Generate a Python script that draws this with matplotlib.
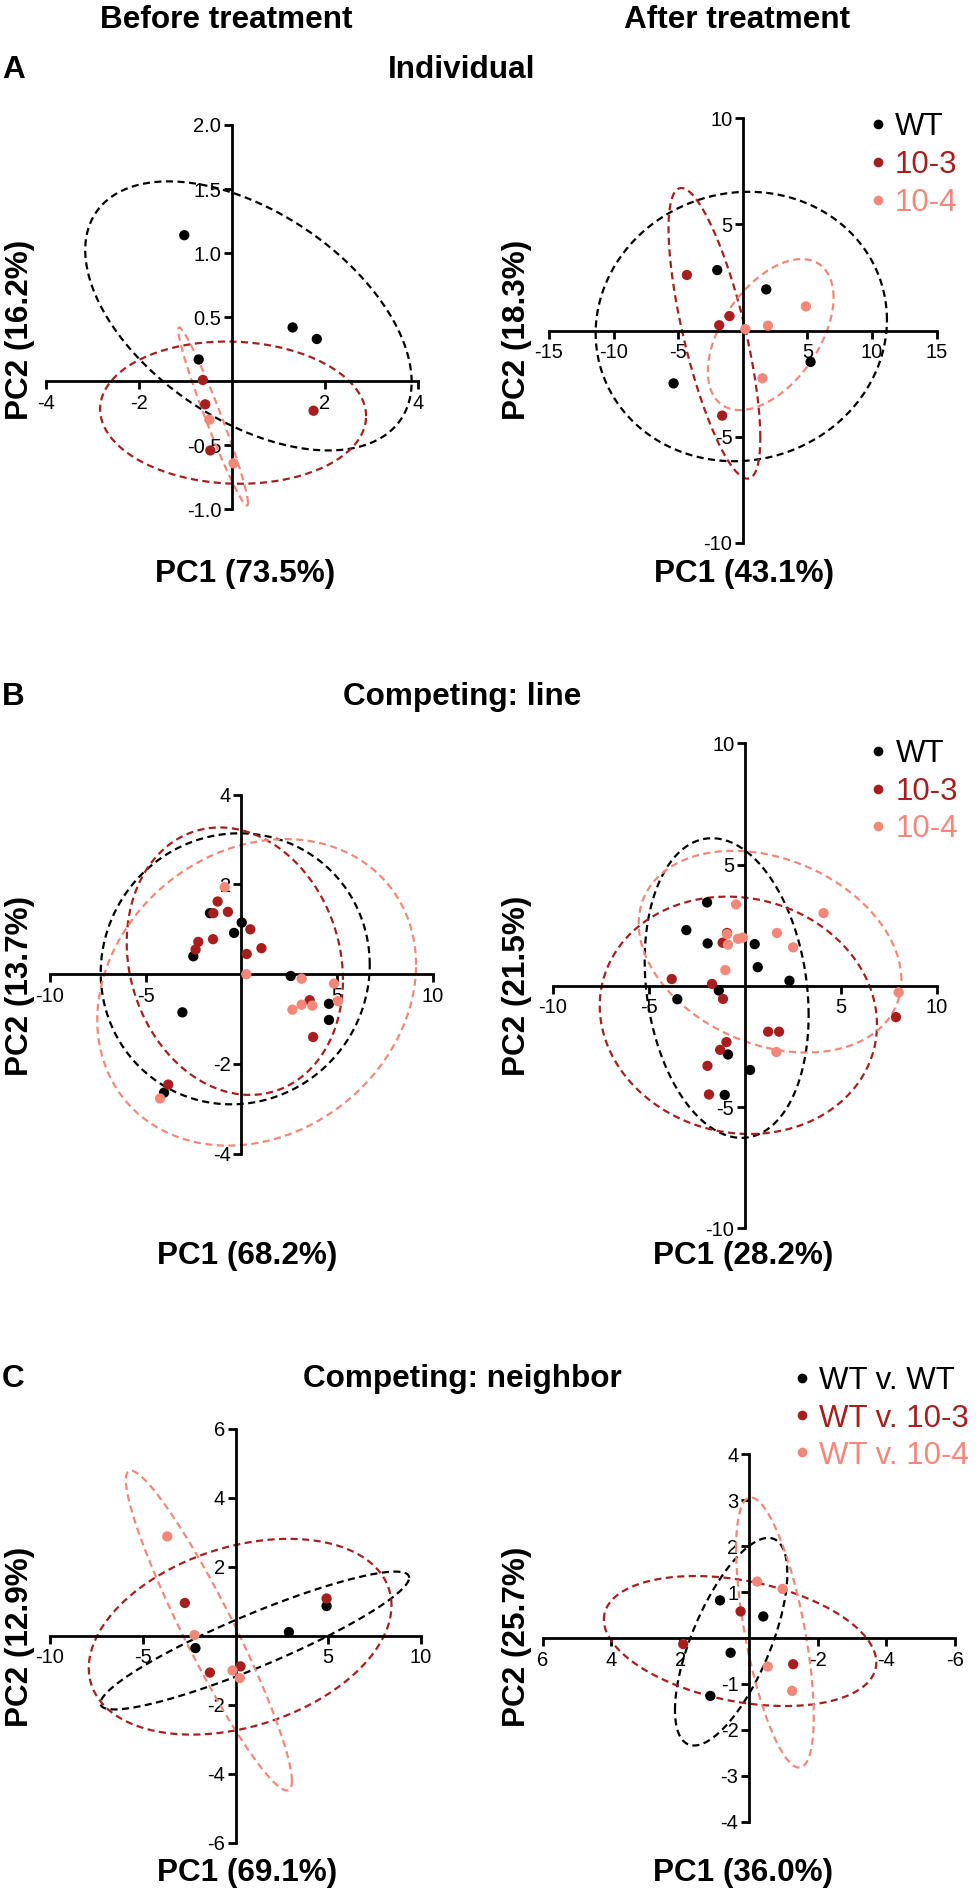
import numpy as np
import matplotlib
matplotlib.use("Agg")
import matplotlib.pyplot as plt

plt.rcParams["font.family"] = ["Liberation Sans", "DejaVu Sans"]

W, H = 979, 1889

BLACK = "#000000"
DARK_RED = "#A81E1E"
SALMON = "#F3887A"

# ---- data ----
# A: Individual
a_pre_wt_x = [-1.02, 1.31, 1.83, -0.71]
a_pre_wt_y = [1.14, 0.42, 0.33, 0.17]
a_pre_103_x = [-0.62, -0.57, -0.46, 1.76]
a_pre_103_y = [0.01, -0.18, -0.54, -0.23]
a_pre_104_x = [-0.48, 0.04]
a_pre_104_y = [-0.30, -0.64]

a_post_wt_x = [-1.98, 1.81, -5.36, 5.24]
a_post_wt_y = [2.85, 1.94, -2.49, -1.48]
a_post_103_x = [-4.33, -1.03, -1.83, -1.60]
a_post_103_y = [2.62, 0.68, 0.25, -4.01]
a_post_104_x = [4.88, 0.19, 1.94, 1.52]
a_post_104_y = [1.14, 0.07, 0.23, -2.25]

# B: Competing: line
b_pre_wt_x = [-1.64, -2.51, -0.38, 0.02, -3.08, 2.58, 4.58, 4.58, -4.04]
b_pre_wt_y = [1.36, 0.40, 0.92, 1.15, -0.85, -0.04, -0.66, -1.02, -2.64]
b_pre_103_x = [-1.24, -1.46, -0.70, -2.25, -2.39, -1.48, 0.47, 1.05, 0.28, 3.57, 3.75, -3.82]
b_pre_103_y = [1.62, 1.36, 1.39, 0.72, 0.55, 0.78, 1.00, 0.58, 0.45, -0.58, -1.40, -2.46]
b_pre_104_x = [-0.87, 0.26, 3.15, 2.67, 3.15, 3.71, 4.84, 5.05, -4.25]
b_pre_104_y = [1.94, 0.0, -0.10, -0.79, -0.68, -0.70, -0.21, -0.60, -2.77]

b_post_wt_x = [-1.96, -3.04, -1.93, 0.52, 0.68, 2.33, -1.35, -3.51, -0.87, 0.28, -1.04]
b_post_wt_y = [3.44, 2.30, 1.75, 1.72, 0.77, 0.21, -0.19, -0.55, -2.83, -3.47, -4.50]
b_post_103_x = [-0.92, -1.15, -3.80, -1.70, -1.13, 1.22, 1.79, -0.95, -1.28, -1.94, -1.86, 7.88]
b_post_103_y = [2.18, 1.78, 0.28, 0.08, -0.54, -1.89, -1.89, -2.32, -2.64, -3.30, -4.48, -1.29]
b_post_104_x = [-0.45, -0.92, -0.87, -0.35, -0.09, 1.68, 2.52, -1.01, 4.11, 8.02, 1.65]
b_post_104_y = [3.36, 2.13, 1.70, 1.94, 1.99, 2.18, 1.59, 0.65, 3.00, -0.27, -2.73]

# C: Competing: neighbor
c_pre_wt_x = [4.91, 2.88, -2.16]
c_pre_wt_y = [0.86, 0.105, -0.36]
c_pre_103_x = [4.91, -2.73, -1.38, 0.27]
c_pre_103_y = [1.08, 0.95, -1.07, -0.89]
c_pre_104_x = [-3.68, -2.21, -0.16, 0.23]
c_pre_104_y = [2.88, 0.02, -1.01, -1.23]

c_post_wt_x = [0.84, -0.42, 0.53, 1.12]
c_post_wt_y = [0.82, 0.47, -0.32, -1.26]
c_post_103_x = [0.24, 1.91, -1.29]
c_post_103_y = [0.58, -0.13, -0.57]
c_post_104_x = [-0.24, -0.98, -0.55, -1.26]
c_post_104_y = [1.23, 1.07, -0.62, -1.15]

# ellipses: centre x, centre y, half x-extent, half y-extent, correlation
a_pre_ell = [(0.36, 0.51, 3.51, 1.05, -0.49), (0.03, -0.245, 2.86, 0.555, -0.05),
             (-0.40, -0.275, 0.75, 0.695, -0.97)]
a_post_ell = [(-0.12, 0.19, 11.27, 6.35, 0.05), (-2.2, -0.13, 3.55, 6.85, -0.72),
              (2.155, -0.19, 4.865, 3.56, 0.49)]
b_pre_ell = [(-0.32, 0.12, 7.03, 3.02, 0.03), (-0.34, 0.29, 5.65, 2.98, -0.14),
             (0.80, -0.405, 8.33, 3.415, 0.18)]
b_post_ell = [(-0.94, -0.09, 4.27, 6.18, -0.18), (-0.33, -1.215, 7.22, 4.895, -0.08),
              (1.32, 1.41, 6.84, 4.16, -0.28)]
c_pre_ell = [(1.04, -0.14, 8.32, 2.0, 0.91), (0.25, -0.03, 8.16, 2.84, 0.32),
             (-1.435, 0.15, 4.475, 4.64, -0.94)]
c_post_ell = [(0.515, -0.08, 1.635, 2.26, -0.66), (0.255, -0.065, 3.965, 1.415, 0.33),
              (-0.76, 0.12, 1.13, 2.94, 0.62)]

pc1_labels = ["PC1 (73.5%)", "PC1 (43.1%)", "PC1 (68.2%)", "PC1 (28.2%)", "PC1 (69.1%)", "PC1 (36.0%)"]
pc2_labels = ["PC2 (16.2%)", "PC2 (18.3%)", "PC2 (13.7%)", "PC2 (21.5%)", "PC2 (12.9%)", "PC2 (25.7%)"]

groups_line = ["WT", "10-3", "10-4"]
groups_neighbor = ["WT v. WT", "WT v. 10-3", "WT v. 10-4"]
colors = [BLACK, DARK_RED, SALMON]

panels = [
    dict(px=(45.7, 417.7, 125.0, 509.4), xlim=(-4, 4), ylim=(-1, 2),
         xt=[-4, -2, 2, 4], xtl=["-4", "-2", "2", "4"],
         yt=[-1, -0.5, 0.5, 1, 1.5, 2], ytl=["-1.0", "-0.5", "0.5", "1.0", "1.5", "2.0"],
         pts=[(a_pre_wt_x, a_pre_wt_y), (a_pre_103_x, a_pre_103_y), (a_pre_104_x, a_pre_104_y)],
         ell=a_pre_ell),
    dict(px=(549.0, 936.7, 118.4, 542.7), xlim=(-15, 15), ylim=(-10, 10),
         xt=[-15, -10, -5, 5, 10, 15], xtl=["-15", "-10", "-5", "5", "10", "15"],
         yt=[-10, -5, 5, 10], ytl=["-10", "-5", "5", "10"],
         pts=[(a_post_wt_x, a_post_wt_y), (a_post_103_x, a_post_103_y), (a_post_104_x, a_post_104_y)],
         ell=a_post_ell),
    dict(px=(50.0, 432.7, 794.7, 1153.7), xlim=(-10, 10), ylim=(-4, 4),
         xt=[-10, -5, 5, 10], xtl=["-10", "-5", "5", "10"],
         yt=[-4, -2, 2, 4], ytl=["-4", "-2", "2", "4"],
         pts=[(b_pre_wt_x, b_pre_wt_y), (b_pre_103_x, b_pre_103_y), (b_pre_104_x, b_pre_104_y)],
         ell=b_pre_ell),
    dict(px=(552.7, 936.7, 743.4, 1228.3), xlim=(-10, 10), ylim=(-10, 10),
         xt=[-10, -5, 5, 10], xtl=["-10", "-5", "5", "10"],
         yt=[-10, -5, 5, 10], ytl=["-10", "-5", "5", "10"],
         pts=[(b_post_wt_x, b_post_wt_y), (b_post_103_x, b_post_103_y), (b_post_104_x, b_post_104_y)],
         ell=b_post_ell),
    dict(px=(50.0, 421.0, 1428.9, 1842.5), xlim=(-10, 10), ylim=(-6, 6),
         xt=[-10, -5, 5, 10], xtl=["-10", "-5", "5", "10"],
         yt=[-6, -4, -2, 2, 4, 6], ytl=["-6", "-4", "-2", "2", "4", "6"],
         pts=[(c_pre_wt_x, c_pre_wt_y), (c_pre_103_x, c_pre_103_y), (c_pre_104_x, c_pre_104_y)],
         ell=c_pre_ell),
    dict(px=(542.7, 955.0, 1454.3, 1821.8), xlim=(6, -6), ylim=(-4, 4),
         xt=[6, 4, 2, -2, -4, -6], xtl=["6", "4", "2", "-2", "-4", "-6"],
         yt=[-4, -3, -2, -1, 1, 2, 3, 4], ytl=["-4", "-3", "-2", "-1", "1", "2", "3", "4"],
         pts=[(c_post_wt_x, c_post_wt_y), (c_post_103_x, c_post_103_y), (c_post_104_x, c_post_104_y)],
         ell=c_post_ell),
]


def ftext(fig, x, y, s, **kw):
    fig.text(x / W, 1 - y / H, s, **kw)


def draw_ellipse(ax, cx, cy, sx, sy, rho, color):
    t = np.linspace(0, 2 * np.pi, 300)
    ex = cx + sx * np.cos(t)
    ey = cy + sy * (rho * np.cos(t) + np.sqrt(1 - rho ** 2) * np.sin(t))
    ax.plot(ex, ey, color=color, lw=1.6, linestyle=(0, (3.2, 2.0)),
            clip_on=False, zorder=2)


def draw_panel(fig, p):
    x0, x1, yt, yb = p["px"]
    ax = fig.add_axes([x0 / W, 1 - yb / H, (x1 - x0) / W, (yb - yt) / H])
    ax.set_facecolor("none")
    ax.set_xlim(*p["xlim"])
    ax.set_ylim(*p["ylim"])
    for s in ["top", "right"]:
        ax.spines[s].set_visible(False)
    for s in ["left", "bottom"]:
        ax.spines[s].set_position(("data", 0))
        ax.spines[s].set_linewidth(2.0)
    ax.set_xticks(p["xt"])
    ax.set_xticklabels(p["xtl"])
    ax.set_yticks(p["yt"])
    ax.set_yticklabels(p["ytl"])
    ax.tick_params(axis="both", direction="out", length=6, width=2.0, labelsize=14.5)
    ax.tick_params(axis="x", pad=3)
    ax.tick_params(axis="y", pad=1.5)
    for (ex, c) in zip(p["ell"], colors):
        draw_ellipse(ax, *ex, c)
    for (xs, ys), c in zip(p["pts"], colors):
        ax.scatter(xs, ys, s=55, color=c, edgecolors="none", zorder=3, clip_on=False)
    return ax


def draw_legend(fig, ax, xdot, xtxt, rows, labels):
    for y, lab, c in zip(rows, labels, colors):
        ax.plot([xdot / W], [1 - y / H], "o", ms=7, color=c, mec="none",
                transform=fig.transFigure, clip_on=False)
        ftext(fig, xtxt, y + 11.3, lab, fontsize=22.5, color=c, ha="left", va="baseline")


def main():
    fig = plt.figure(figsize=(W / 100, H / 100), dpi=100)
    fig.patch.set_facecolor("white")

    axes = [draw_panel(fig, p) for p in panels]

    bold = dict(fontsize=22.7, fontweight="bold", va="baseline")
    # column headers
    ftext(fig, 226.7, 27.7, "Before treatment", ha="center", **bold)
    ftext(fig, 737.5, 27.7, "After treatment", ha="center", **bold)

    # panel letters and titles
    ftext(fig, 2, 77.7, "A", ha="left", **bold)
    ftext(fig, 461.5, 77.7, "Individual", ha="center", **bold)
    ftext(fig, 2, 705, "B", ha="left", **bold)
    ftext(fig, 462, 705, "Competing: line", ha="center", **bold)
    ftext(fig, 2, 1387, "C", ha="left", **bold)
    ftext(fig, 462.5, 1387, "Competing: neighbor", ha="center", **bold)

    # axis labels
    pc1_pos = [(245, 581.7), (744, 581.7), (247, 1264.3), (743, 1264.3), (247, 1880.6), (743, 1880.6)]
    pc2_pos = [(20, 330), (517, 330), (20, 986), (517, 986), (20, 1637), (517, 1637)]
    for lab, (x, y) in zip(pc1_labels, pc1_pos):
        ftext(fig, x, y, lab, ha="center", **bold)
    for lab, (x, y) in zip(pc2_labels, pc2_pos):
        ftext(fig, x, y, lab, ha="center", va="center", rotation=90,
              fontsize=22.7, fontweight="bold")

    # legends
    draw_legend(fig, axes[1], 878.3, 895, [124, 161.7, 199.8], groups_line)
    draw_legend(fig, axes[3], 878.3, 896, [751, 789, 825.7], groups_line)
    draw_legend(fig, axes[5], 801.7, 819.3, [1378, 1415.4, 1452.4], groups_neighbor)

    fig.savefig("out.png", dpi=100, facecolor="white")
    plt.close(fig)


if __name__ == "__main__":
    main()
